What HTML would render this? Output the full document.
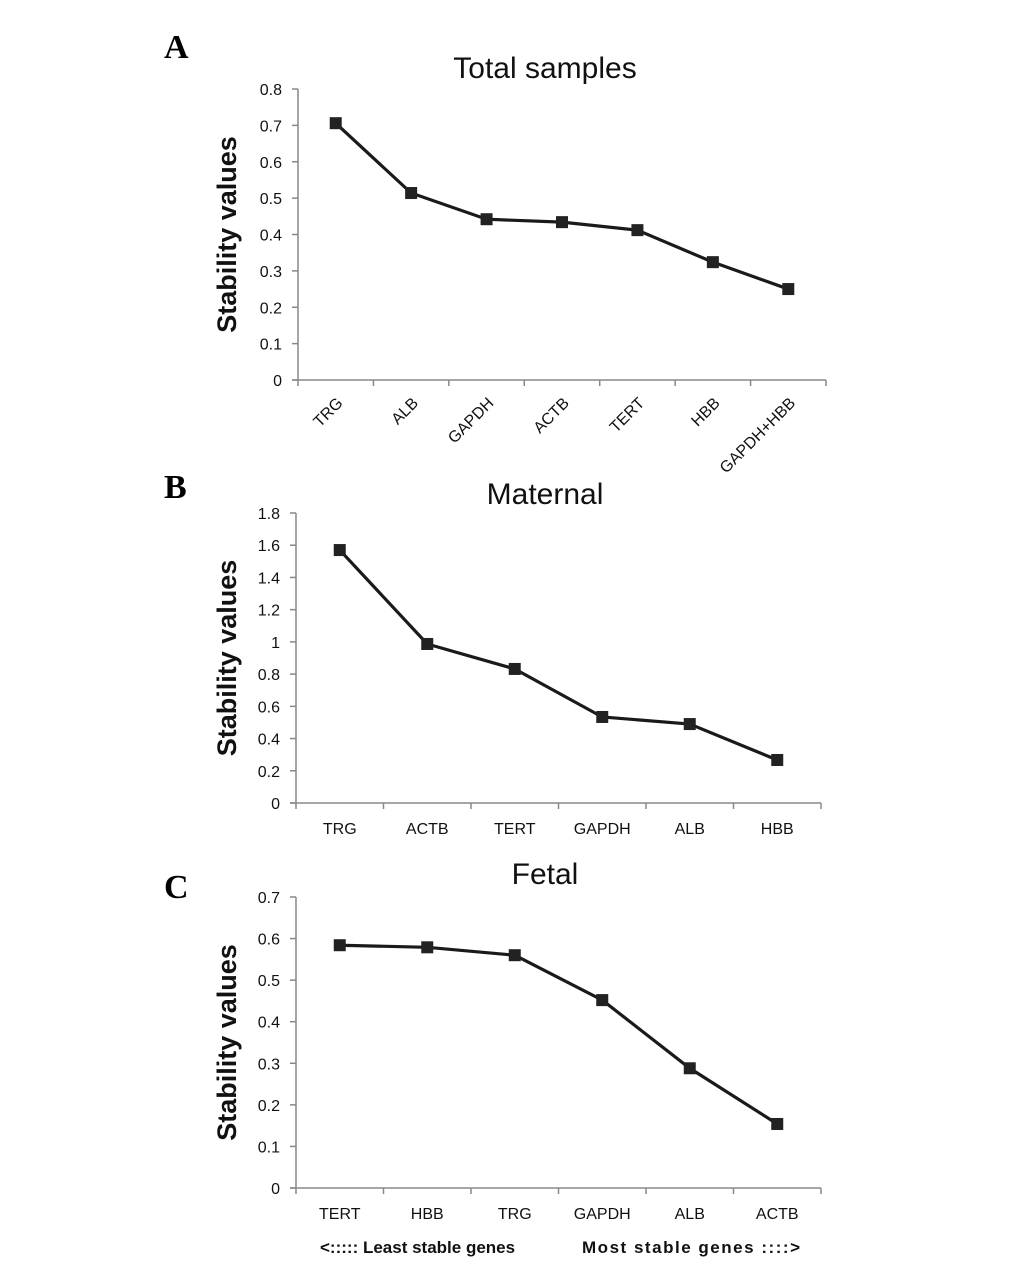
<!DOCTYPE html>
<html><head><meta charset="utf-8"><style>
body{margin:0;background:#fff;}
svg text{font-family:"Liberation Sans",sans-serif;}
</style></head><body>
<svg id="fig" width="1033" height="1283" viewBox="0 0 1033 1283" xmlns="http://www.w3.org/2000/svg">
<text x="164" y="58" style="font-family:'Liberation Serif',serif" font-weight="bold" font-size="34">A</text>
<text x="164" y="498" style="font-family:'Liberation Serif',serif" font-weight="bold" font-size="34">B</text>
<text x="164" y="898" style="font-family:'Liberation Serif',serif" font-weight="bold" font-size="34">C</text>
<text x="320" y="1253" font-size="17" font-weight="bold" fill="#111">&lt;:::::  Least stable genes</text>
<text x="582" y="1253" font-size="17" font-weight="bold" fill="#111" textLength="218">Most stable genes ::::&gt;</text>
</svg>
<script>
const catsA=["TRG","ALB","GAPDH","ACTB","TERT","HBB","GAPDH+HBB"];
const valsA=[0.706,0.514,0.442,0.434,0.412,0.324,0.25];
const ticksA=[0,0.1,0.2,0.3,0.4,0.5,0.6,0.7,0.8];
const catsB=["TRG","ACTB","TERT","GAPDH","ALB","HBB"];
const valsB=[1.57,0.987,0.832,0.534,0.49,0.267];
const ticksB=[0,0.2,0.4,0.6,0.8,1,1.2,1.4,1.6,1.8];
const catsC=["TERT","HBB","TRG","GAPDH","ALB","ACTB"];
const valsC=[0.584,0.579,0.56,0.452,0.288,0.154];
const ticksC=[0,0.1,0.2,0.3,0.4,0.5,0.6,0.7];
const NS="http://www.w3.org/2000/svg";
const svg=document.getElementById('fig');
function mk(t,a,txt){const e=document.createElementNS(NS,t);for(const k in a)e.setAttribute(k,a[k]);if(txt!=null)e.textContent=txt;svg.appendChild(e);return e;}
function panel(id,title,titleY,cats,vals,ticks,x0,x1,y0,y1,rot){
  const max=ticks[ticks.length-1];
  const ys=v=>y0-(v/max)*(y0-y1);
  const bw=(x1-x0)/cats.length;
  const xs=i=>x0+bw*(i+0.5);
  let e=mk('text',{x:545,y:titleY,'font-size':30,'text-anchor':'middle',fill:'#111'},title);
  
  
  e=mk('text',{x:0,y:0,'font-size':27,'font-weight':'bold','text-anchor':'middle',fill:'#111',transform:`translate(236,${(y0+y1)/2}) rotate(-90)`},'Stability values');
  
  
  e=mk('line',{x1:x0,y1:y1,x2:x0,y2:y0,stroke:'#888','stroke-width':1.5});
  
  
  e=mk('line',{x1:x0-6,y1:y0,x2:x1,y2:y0,stroke:'#888','stroke-width':1.5});
  
  
  ticks.forEach(t=>{
    const y=ys(t);
    let l=mk('line',{x1:x0-6,y1:y,x2:x0,y2:y,stroke:'#888','stroke-width':1.5});
    
    
    let tx=mk('text',{x:x0-16,y:y+6,'font-size':16,'text-anchor':'end',fill:'#111'},String(t));
    
    
  });
  for(let i=0;i<=cats.length;i++){
    const x=x0+bw*i;
    let l=mk('line',{x1:x,y1:y0,x2:x,y2:y0+6,stroke:'#888','stroke-width':1.5});
    
    
  }
  cats.forEach((c,i)=>{
    let tx;
    if(rot){tx=mk('text',{x:0,y:0,'font-size':16,'text-anchor':'end',fill:'#111',transform:`translate(${xs(i)+8},${y0+24}) rotate(-45)`},c);}
    else tx=mk('text',{x:xs(i),y:y0+31,'font-size':16,'text-anchor':'middle',fill:'#111'},c);
    
    
  });
  const pts=vals.map((v,i)=>xs(i)+','+ys(v)).join(' ');
  e=mk('polyline',{points:pts,fill:'none',stroke:'#1a1a1a','stroke-width':3.2});
  
  
  vals.forEach((v,i)=>{
    let r=mk('rect',{x:xs(i)-6,y:ys(v)-6,width:12,height:12,fill:'#222'});
    
    
  });
}
panel('panel-a','Total samples',78,catsA,valsA,ticksA,298,826,380,89,true);
panel('panel-b','Maternal',504,catsB,valsB,ticksB,296,821,803,513,false);
panel('panel-c','Fetal',884,catsC,valsC,ticksC,296,821,1188,897,false);
</script>
</body></html>
